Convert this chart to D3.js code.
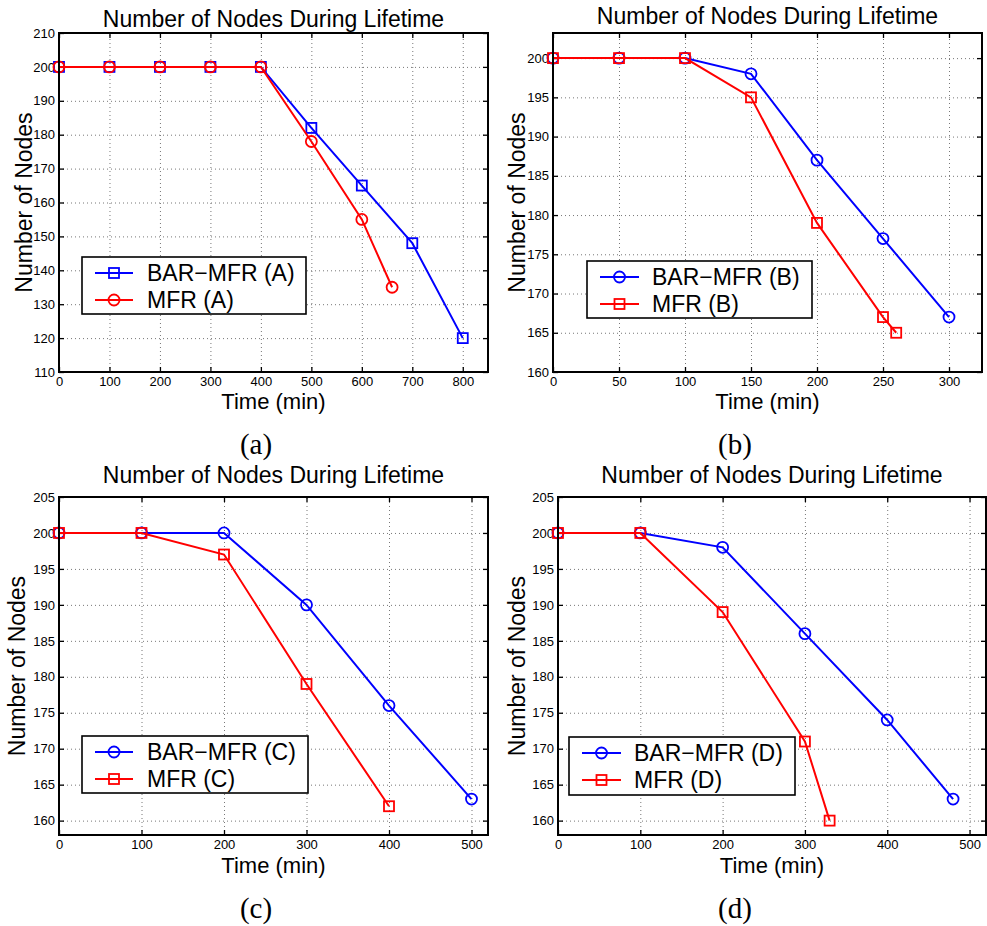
<!DOCTYPE html>
<html>
<head>
<meta charset="utf-8">
<script src="https://cdn.jsdelivr.net/npm/d3@7"></script>
<style>
  body { margin: 0; background: #fff; }
  svg text { font-family: "Liberation Sans", Arial, Helvetica, sans-serif; }
  .caption { font-family: "Liberation Serif", "Times New Roman", serif !important; }
</style>
</head>
<body>
<script>
// ---- data ----
const titleText = "Number of Nodes During Lifetime"
const xLabelText = "Time (min)"
const yLabelText = "Number of Nodes"

// (a)
const timeA_bar = [0, 100, 200, 300, 400, 500, 600, 700, 800]
const nodesA_bar = [200, 200, 200, 200, 200, 182, 165, 148, 120]
const timeA_mfr = [0, 100, 200, 300, 400, 500, 600, 660]
const nodesA_mfr = [200, 200, 200, 200, 200, 178, 155, 135]
const xTicksA = [0, 100, 200, 300, 400, 500, 600, 700, 800]
const yTicksA = [110, 120, 130, 140, 150, 160, 170, 180, 190, 200, 210]

// (b)
const timeB_bar = [0, 50, 100, 150, 200, 250, 300]
const nodesB_bar = [200, 200, 200, 198, 187, 177, 167]
const timeB_mfr = [0, 50, 100, 150, 200, 250, 260]
const nodesB_mfr = [200, 200, 200, 195, 179, 167, 165]
const xTicksB = [0, 50, 100, 150, 200, 250, 300]
const yTicksB = [160, 165, 170, 175, 180, 185, 190, 195, 200]

// (c)
const timeC_bar = [0, 100, 200, 300, 400, 500]
const nodesC_bar = [200, 200, 200, 190, 176, 163]
const timeC_mfr = [0, 100, 200, 300, 400]
const nodesC_mfr = [200, 200, 197, 179, 162]
const xTicksC = [0, 100, 200, 300, 400, 500]
const yTicksC = [160, 165, 170, 175, 180, 185, 190, 195, 200, 205]

// (d)
const timeD_bar = [0, 100, 200, 300, 400, 480]
const nodesD_bar = [200, 200, 198, 186, 174, 163]
const timeD_mfr = [0, 100, 200, 300, 330]
const nodesD_mfr = [200, 200, 189, 171, 160]
const xTicksD = [0, 100, 200, 300, 400, 500]
const yTicksD = [160, 165, 170, 175, 180, 185, 190, 195, 200, 205]

const zip = (xs, ys) => xs.map((x, i) => ({ x: x, y: ys[i] }))

// ---- layout ----
const panels = [
  { caption: "(a)", box: { l: 59, r: 488, t: 33, b: 372 }, xDom: [0, 850], yDom: [110, 210],
    xTicks: xTicksA, yTicks: yTicksA, titleY: 27, xLabY: 409, yLabX: 32, capX: 256, capY: 454,
    legend: { l: 82, t: 257, w: 224, h: 57, lineX0: 95, lineX1: 133, textX: 147, row1: 273, row2: 300 },
    series: [
      { name: "BAR\u2212MFR (A)", color: "#0000ff", marker: "square", data: zip(timeA_bar, nodesA_bar) },
      { name: "MFR (A)", color: "#ff0000", marker: "circle", data: zip(timeA_mfr, nodesA_mfr) }
    ] },
  { caption: "(b)", box: { l: 553, r: 982, t: 33, b: 372 }, xDom: [0, 325], yDom: [160, 203.2],
    xTicks: xTicksB, yTicks: yTicksB, titleY: 24, xLabY: 409, yLabX: 525, capX: 735, capY: 454,
    legend: { l: 587, t: 261, w: 225, h: 57, lineX0: 600, lineX1: 639, textX: 652, row1: 277, row2: 304 },
    series: [
      { name: "BAR\u2212MFR (B)", color: "#0000ff", marker: "circle", data: zip(timeB_bar, nodesB_bar) },
      { name: "MFR (B)", color: "#ff0000", marker: "square", data: zip(timeB_mfr, nodesB_mfr) }
    ] },
  { caption: "(c)", box: { l: 59, r: 488, t: 497, b: 835 }, xDom: [0, 520], yDom: [158, 205],
    xTicks: xTicksC, yTicks: yTicksC, titleY: 483, xLabY: 873, yLabX: 25, capX: 256, capY: 918,
    legend: { l: 82, t: 736, w: 226, h: 57, lineX0: 95, lineX1: 133, textX: 147, row1: 752, row2: 779 },
    series: [
      { name: "BAR\u2212MFR (C)", color: "#0000ff", marker: "circle", data: zip(timeC_bar, nodesC_bar) },
      { name: "MFR (C)", color: "#ff0000", marker: "square", data: zip(timeC_mfr, nodesC_mfr) }
    ] },
  { caption: "(d)", box: { l: 558, r: 986, t: 497, b: 835 }, xDom: [0, 520], yDom: [158, 205],
    xTicks: xTicksD, yTicks: yTicksD, titleY: 483, xLabY: 873, yLabX: 525, capX: 735, capY: 918,
    legend: { l: 569, t: 737, w: 226, h: 58, lineX0: 582, lineX1: 621, textX: 634, row1: 753, row2: 780 },
    series: [
      { name: "BAR\u2212MFR (D)", color: "#0000ff", marker: "circle", data: zip(timeD_bar, nodesD_bar) },
      { name: "MFR (D)", color: "#ff0000", marker: "square", data: zip(timeD_mfr, nodesD_mfr) }
    ] }
]

const svg = d3.select("body").append("svg")
    .attr("width", 987)
    .attr("height", 926)

function drawMarker(g, kind, cx, cy, color) {
  if (kind == "square") {
    g.append("rect")
      .attr("x", cx - 5).attr("y", cy - 5)
      .attr("width", 10).attr("height", 10)
      .attr("fill", "none").attr("stroke", color).attr("stroke-width", 1.8)
  } else {
    g.append("circle")
      .attr("cx", cx).attr("cy", cy).attr("r", 5.5)
      .attr("fill", "none").attr("stroke", color).attr("stroke-width", 1.8)
  }
}

panels.forEach(p => {
  const w = p.box.r - p.box.l
  const h = p.box.b - p.box.t
  const xScale = d3.scaleLinear().domain(p.xDom).range([0, w])
  const yScale = d3.scaleLinear().domain(p.yDom).range([h, 0])

  const g = svg.append("g").attr("transform", `translate(${p.box.l}, ${p.box.t})`)

  // dotted grid
  const gridX = g.append("g").attr("transform", `translate(0, ${h})`)
      .call(d3.axisBottom(xScale).tickValues(p.xTicks.filter(v => v > p.xDom[0])).tickSize(-h).tickFormat(""))
  const gridY = g.append("g")
      .call(d3.axisLeft(yScale).tickValues(p.yTicks.filter(v => v > p.yDom[0] && v < p.yDom[1])).tickSize(-w).tickFormat(""))
  ;[gridX, gridY].forEach(a => {
    a.select(".domain").remove()
    a.selectAll("line").attr("stroke", "#777").attr("stroke-width", 1).attr("stroke-dasharray", "1,3")
  })

  // inward ticks on all sides
  const bottom = g.append("g").attr("transform", `translate(0, ${h})`)
      .call(d3.axisBottom(xScale).tickValues(p.xTicks).tickSize(-5).tickPadding(5))
  const top = g.append("g")
      .call(d3.axisTop(xScale).tickValues(p.xTicks).tickSize(-5).tickFormat(""))
  const left = g.append("g")
      .call(d3.axisLeft(yScale).tickValues(p.yTicks).tickSize(-5).tickPadding(4))
  const right = g.append("g").attr("transform", `translate(${w}, 0)`)
      .call(d3.axisRight(yScale).tickValues(p.yTicks).tickSize(-5).tickFormat(""))
  ;[bottom, top, left, right].forEach(a => {
    a.select(".domain").remove()
    a.selectAll("line").attr("stroke", "#000").attr("stroke-width", 1.3)
    a.selectAll("text").attr("font-size", 13).attr("fill", "#000")
      .style("font-family", "'Liberation Sans', Arial, sans-serif")
  })

  // series
  const line = d3.line().x(d => xScale(d.x)).y(d => yScale(d.y))
  p.series.forEach(s => {
    g.append("path").datum(s.data)
      .attr("d", line)
      .attr("fill", "none")
      .attr("stroke", s.color)
      .attr("stroke-width", 2)
    const mg = g.append("g")
    s.data.forEach(d => drawMarker(mg, s.marker, xScale(d.x), yScale(d.y), s.color))
  })

  // axes box
  g.append("rect").attr("width", w).attr("height", h)
    .attr("fill", "none").attr("stroke", "#000").attr("stroke-width", 2)

  // legend
  const L = p.legend
  svg.append("rect").attr("x", L.l).attr("y", L.t).attr("width", L.w).attr("height", L.h)
    .attr("fill", "#fff").attr("stroke", "#000").attr("stroke-width", 1.6)
  p.series.forEach((s, i) => {
    const ry = i == 0 ? L.row1 : L.row2
    svg.append("line").attr("x1", L.lineX0).attr("x2", L.lineX1).attr("y1", ry).attr("y2", ry)
      .attr("stroke", s.color).attr("stroke-width", 2)
    drawMarker(svg, s.marker, (L.lineX0 + L.lineX1) / 2, ry, s.color)
    svg.append("text").attr("x", L.textX).attr("y", ry).attr("dy", "0.36em")
      .attr("font-size", 23).text(s.name)
  })

  // texts
  svg.append("text").attr("x", p.box.l + w / 2).attr("y", p.titleY)
    .attr("text-anchor", "middle").attr("font-size", 23).text(titleText)
  svg.append("text").attr("x", p.box.l + w / 2).attr("y", p.xLabY)
    .attr("text-anchor", "middle").attr("font-size", 22).text(xLabelText)
  svg.append("text")
    .attr("transform", `translate(${p.yLabX}, ${p.box.t + h / 2}) rotate(-90)`)
    .attr("text-anchor", "middle").attr("font-size", 23).text(yLabelText)
  svg.append("text").attr("class", "caption").attr("x", p.capX).attr("y", p.capY)
    .attr("text-anchor", "middle").attr("font-size", 29).text(p.caption)
})
</script>
</body>
</html>
